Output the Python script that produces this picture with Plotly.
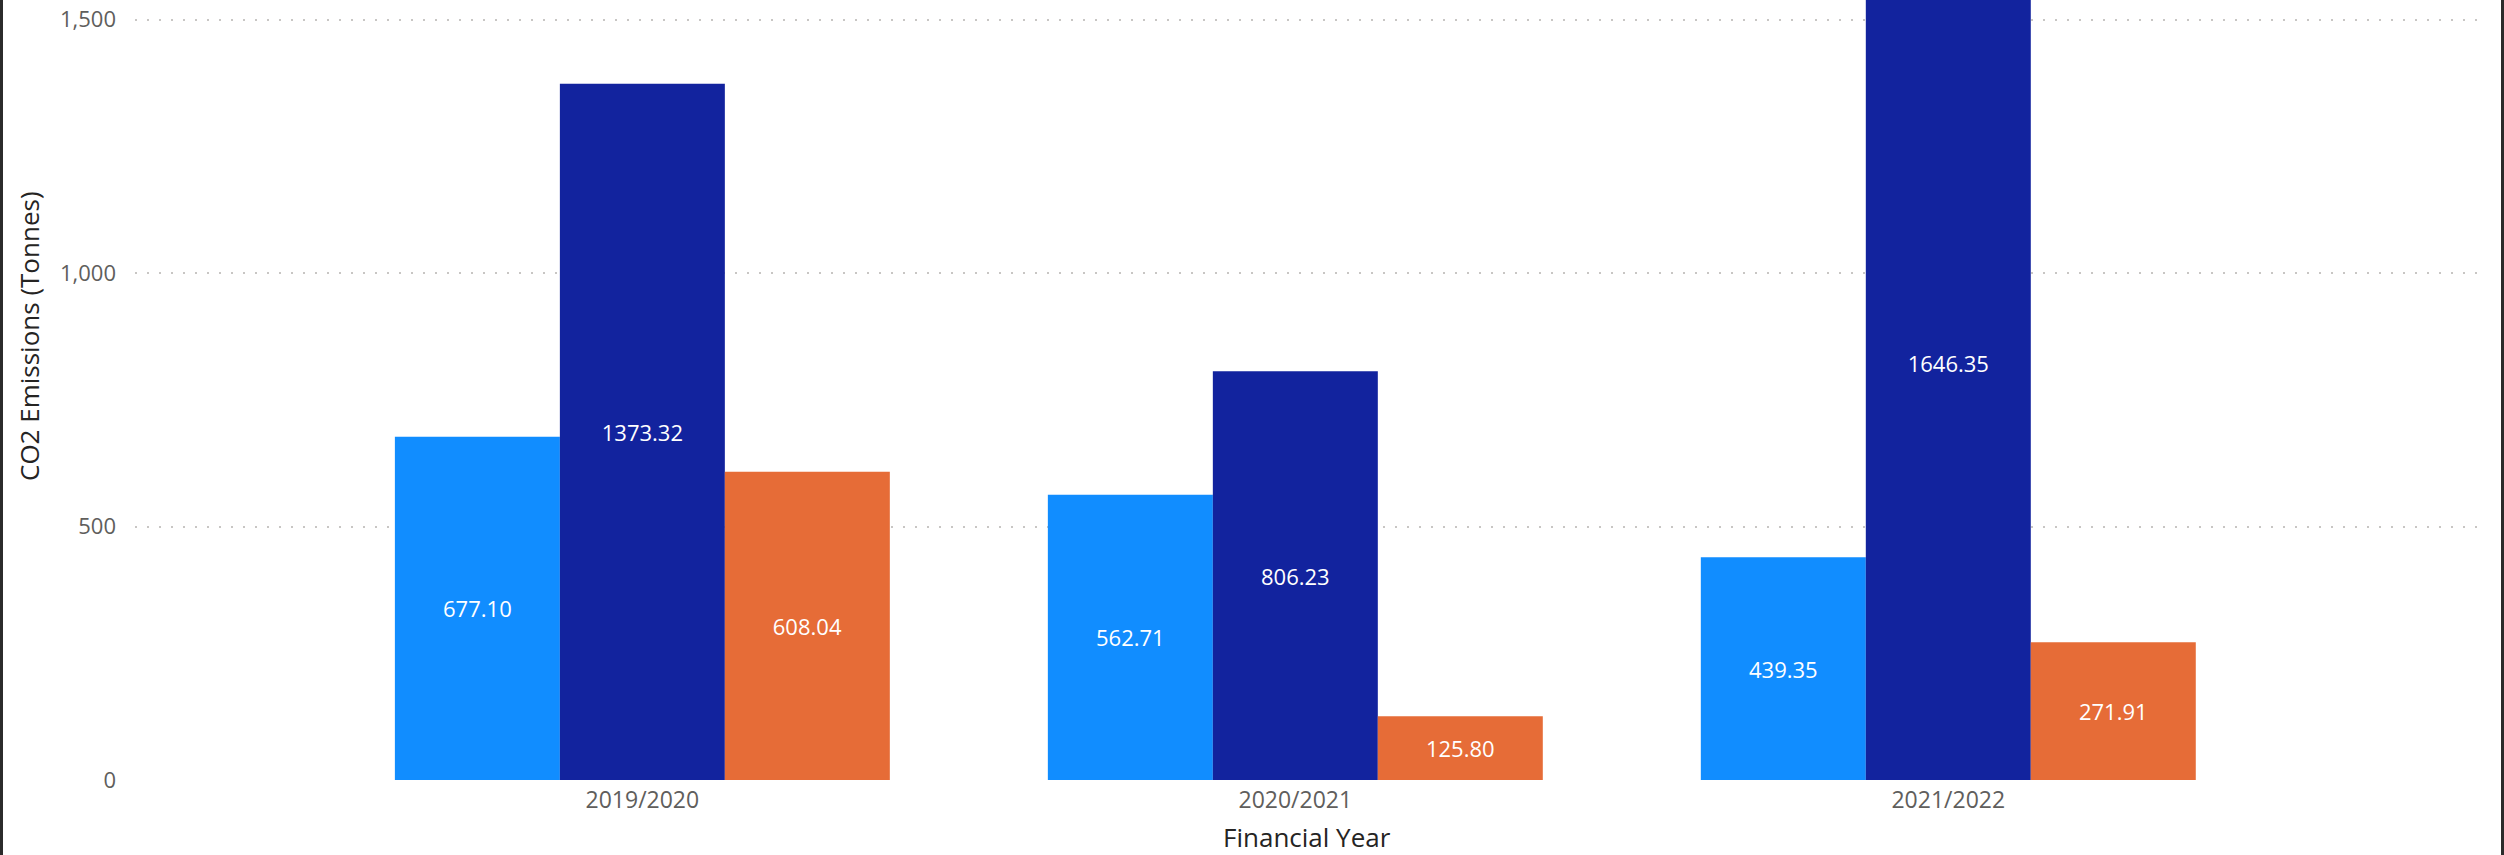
import plotly.graph_objects as go

years = ["2019/2020", "2020/2021", "2021/2022"]
series_names = ["Series A", "Series B", "Series C"]
series_a = [677.10, 562.71, 439.35]
series_b = [1373.32, 806.23, 1646.35]
series_c = [608.04, 125.80, 271.91]
colors = ["#118DFF", "#12239E", "#E66C37"]
y_ticks = [0, 500, 1000, 1500]
y_tick_text = ["0", "500", "1,000", "1,500"]

W, H = 2504, 855
L, R, T, B = 135, 17, 0, 75
plot_w = W - L - R
plot_h = H - T - B

FONT = "Open Sans, Noto Sans, sans-serif"

def px_x(px):
    return (px - L) / plot_w

def px_y(py):
    return (plot_h - (py - T)) / plot_h

fig = go.Figure()
for name, vals, col in zip(series_names, [series_a, series_b, series_c], colors):
    fig.add_trace(go.Bar(
        x=years, y=vals, name=name, marker=dict(color=col, line=dict(width=0)),
        texttemplate="%{y:.2f}", textposition="inside", insidetextanchor="middle",
        textangle=0, textfont=dict(color="white", size=22, family=FONT),
        showlegend=False,
    ))

# frame borders (left/right edges of visual)
for px in (1.5, 2502.5):
    fig.add_shape(type="line", xref="paper", yref="paper",
                  x0=px_x(px), x1=px_x(px), y0=px_y(H + 5), y1=px_y(-5),
                  line=dict(color="#2B2B2B", width=3))

# axis titles
fig.add_annotation(text="CO2 Emissions (Tonnes)", xref="paper", yref="paper",
                   x=px_x(29), y=px_y(336), xanchor="center", yanchor="middle",
                   textangle=-90, showarrow=False,
                   font=dict(size=26, color="#252423", family=FONT))
fig.add_annotation(text="Financial Year", xref="paper", yref="paper",
                   x=px_x(1307), y=px_y(837), xanchor="center", yanchor="middle",
                   showarrow=False,
                   font=dict(size=26, color="#252423", family=FONT))

fig.update_layout(
    width=W, height=H,
    margin=dict(l=L, r=R, t=T, b=B, autoexpand=False),
    paper_bgcolor="white", plot_bgcolor="white",
    barmode="group", bargap=0.242, bargroupgap=0,
    font=dict(family=FONT, color="#605E5C"),
    xaxis=dict(
        range=[-0.777, 2.825], showgrid=False, zeroline=False, showline=False,
        ticks="", tickfont=dict(size=23, color="#605E5C", family=FONT),
        ticklabelstandoff=4,
        automargin=False,
    ),
    yaxis=dict(
        range=[0, 1538.5], tickvals=y_ticks, ticktext=y_tick_text,
        showgrid=True, gridcolor="#C8C6C4", griddash="2px,10px", gridwidth=2,
        zeroline=False, showline=False, ticks="",
        tickfont=dict(size=22, color="#605E5C", family=FONT),
        ticklabelstandoff=18,
        automargin=False,
    ),
)

fig.write_html("out.html", config={"displayModeBar": False},
               post_script="document.body.style.margin='0px';")
